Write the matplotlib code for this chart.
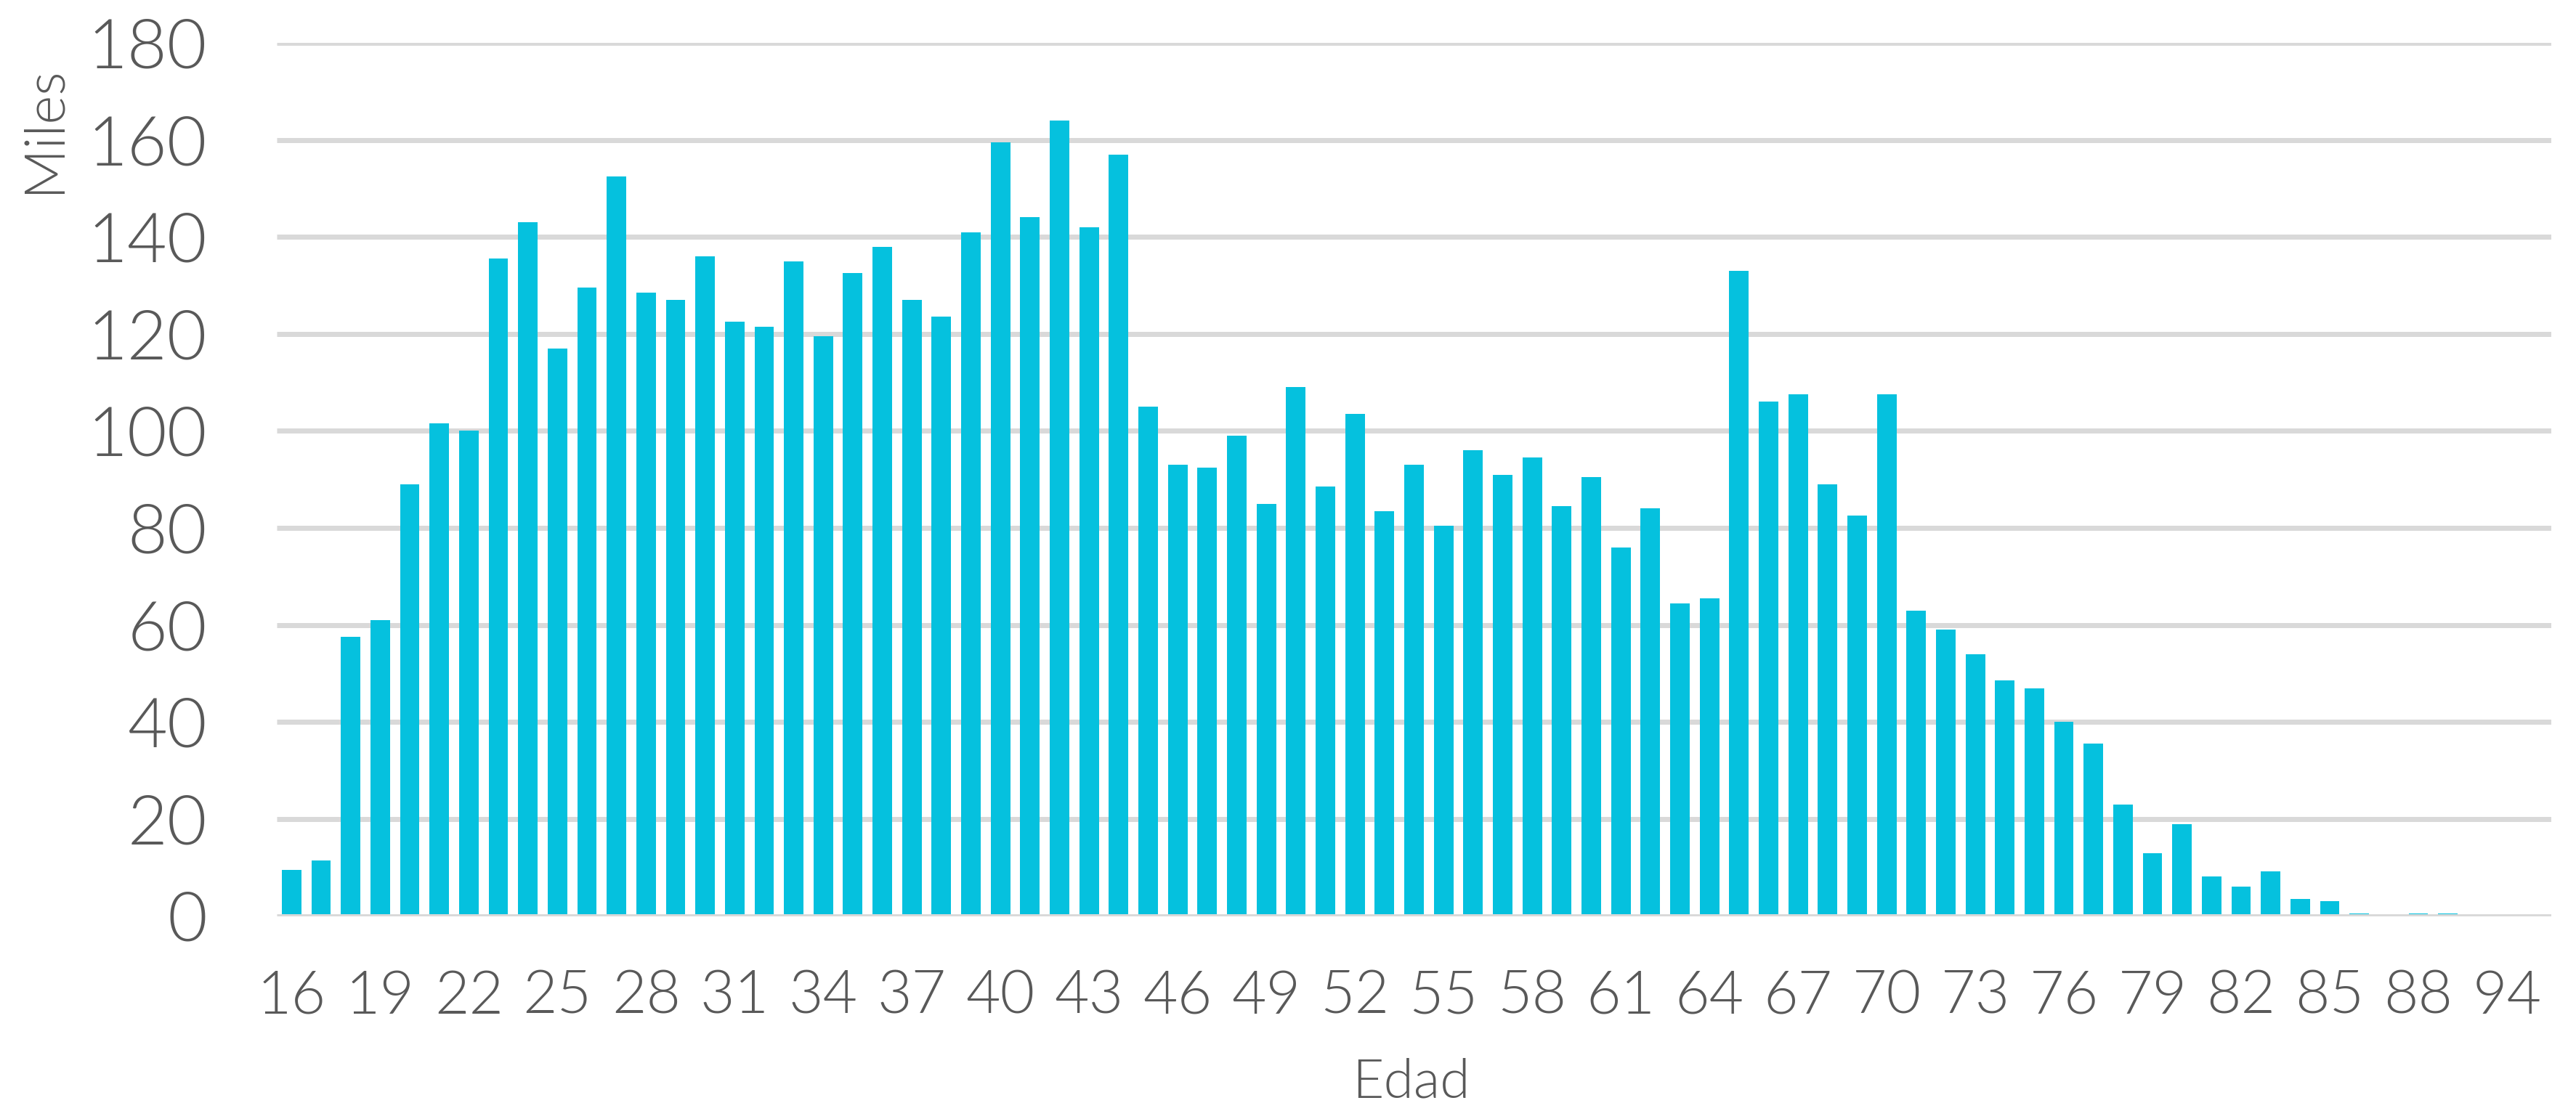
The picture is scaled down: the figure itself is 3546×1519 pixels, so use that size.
import os
import matplotlib
matplotlib.use("Agg")
import matplotlib.pyplot as plt
from matplotlib import font_manager
from matplotlib.font_manager import FontProperties

# ---------------- data ----------------
ages = [str(a) for a in range(16, 90)] + ["90", "94", "95"]
values = [
    9.5, 11.5, 57.5, 61, 89, 101.5, 100, 135.5, 143, 117,        # 16-25
    129.5, 152.5, 128.5, 127, 136, 122.5, 121.5, 135, 119.5, 132.5,  # 26-35
    138, 127, 123.5, 141, 159.5, 144, 164, 142, 157, 105,         # 36-45
    93, 92.5, 99, 85, 109, 88.5, 103.5, 83.5, 93, 80.5,           # 46-55
    96, 91, 94.5, 84.5, 90.5, 76, 84, 64.5, 65.5, 133,            # 56-65
    106, 107.5, 89, 82.5, 107.5, 63, 59, 54, 48.5, 47,            # 66-75
    40, 35.5, 23, 13, 19, 8.1, 6.1, 9.2, 3.5, 3.1,                # 76-85
    0.5, 0, 0.5, 0.5,                                             # 86-89
    0, 0, 0,                                                      # 90, 94, 95
]
yticks = [0, 20, 40, 60, 80, 100, 120, 140, 160, 180]
ylabel = "Miles"
xlabel = "Edad"

# ---------------- style ----------------
W, H, DPI = 3546, 1519, 100
bar_color = "#05C1DE"
grid_color = "#D9D9D9"
text_color = "#595959"

# find a light-weight font file (Montserrat Light look-alike)
font_path = None
wanted = ["Lato-Light.ttf", "Lato-Light.otf", "OpenSans-Light.ttf",
          "Roboto-Light.ttf", "Inter-Light.ttf", "NotoSans-Light.ttf"]
files = {os.path.basename(f.fname): f.fname for f in font_manager.fontManager.ttflist}
for w in wanted:
    if w in files:
        font_path = files[w]
        break


def fp(size):
    if font_path:
        return FontProperties(fname=font_path, size=size)
    return FontProperties(family=["Lato", "DejaVu Sans"], size=size)


fig = plt.figure(figsize=(W / DPI, H / DPI), dpi=DPI)
left, right = 381 / W, 3512 / W
bottom, top = 1 - 1261.5 / H, 1 - 59 / H
ax = fig.add_axes([left, bottom, right - left, top - bottom])

x = list(range(len(ages)))
ax.bar(x, values, width=0.66, color=bar_color, zorder=2)

ax.set_xlim(-0.5, len(ages) - 0.5)
ax.set_ylim(0, 180)

# gridlines
lw = 7 * 72 / DPI
for t in yticks[1:]:
    ax.axhline(t, color=grid_color, linewidth=lw, zorder=1, solid_capstyle="butt")
ax.axhline(0, color=grid_color, linewidth=lw, zorder=3, solid_capstyle="butt")

for s in ax.spines.values():
    s.set_visible(False)

ax.set_yticks(yticks)
ax.set_yticklabels([str(t) for t in yticks], fontproperties=fp(68))
ax.set_xticks(x[::3])
ax.set_xticklabels(ages[::3], fontproperties=fp(59))
ax.tick_params(axis="both", length=0, colors=text_color)
ax.tick_params(axis="y", pad=96 * 72 / DPI)
ax.tick_params(axis="x", pad=74 * 72 / DPI)
for lab in ax.get_xticklabels() + ax.get_yticklabels():
    lab.set_color(text_color)

fig.text(60 / W, 1 - 178 / H, ylabel, rotation=90, ha="center", va="center",
         fontproperties=fp(55), color=text_color)
fig.text(1942 / W, 1 - 1511 / H, xlabel, ha="center", va="baseline",
         fontproperties=fp(54), color=text_color)

fig.savefig("out.png", dpi=DPI, facecolor="white")
